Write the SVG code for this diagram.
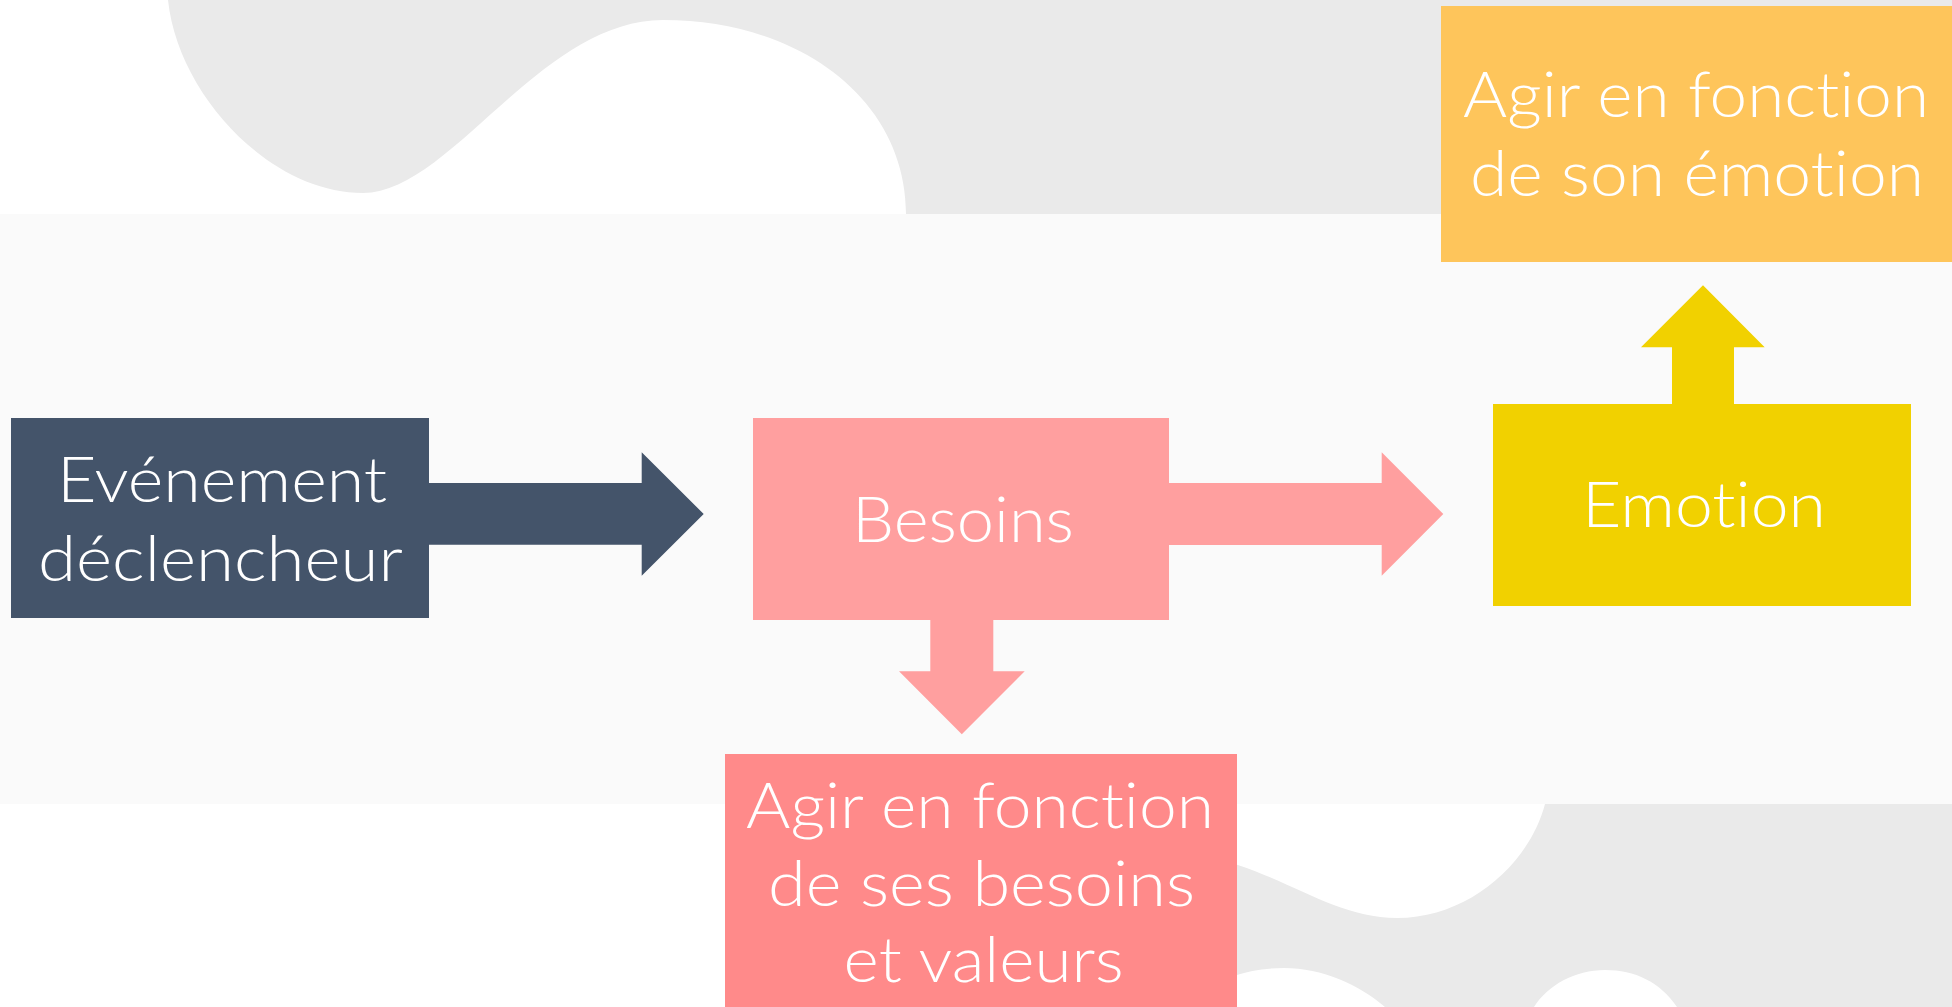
<svg xmlns="http://www.w3.org/2000/svg" width="1952" height="1007" viewBox="0 0 1952 1007">
<style>
.lbl{font-family:"Lato","Noto Sans","Liberation Sans",sans-serif;font-weight:300;font-size:64px;fill:#FFFFFF;text-anchor:middle;font-variant-ligatures:none;font-feature-settings:"liga" 0,"clig" 0,"dlig" 0}
.dark{fill:#44546A}
.pink{fill:#FF9F9F}
.yel{fill:#F1D100}
.org{fill:#FEC55B}
.red{fill:#FF8A8A}
.bg{fill:#EAEAEA}
</style>
<g id="background">
<rect x="0" y="0" width="1952" height="1007" fill="#FFFFFF"/>
<path class="bg" d="M168,0 L1952,0 L1952,214 L906,214 C906,100 800,20 663,20 C540,20 450,193 363,193 C270,193 178,95 168,0 Z"/>
<path class="bg" d="M1200,855 C1280,870 1330,918 1397,918 C1470,918 1530,862 1545,804 L1952,804 L1952,1007 L1677,1007 C1660,982 1635,970 1605,970 C1575,970 1548,985 1534,1007 L1385,1007 C1360,985 1322,968 1284,968 C1265,968 1248,971 1237,975 L1200,985 Z"/>
<rect x="0" y="214" width="1952" height="590" fill="#FAFAFA"/>
</g>
<g id="connectors">
<polygon class="dark" points="420,483 641.7,483 641.7,452.3 703.7,514 641.7,575.7 641.7,544.7 420,544.7"/>
<polygon class="pink" points="1160,483 1381.7,483 1381.7,452.3 1443.3,514 1381.7,575.7 1381.7,545 1160,545"/>
<polygon class="pink" points="930.3,610 993.3,610 993.3,671.3 1024.7,671.3 961.8,734.3 899,671.3 930.3,671.3"/>
<polygon class="yel" points="1672,412 1672,347.3 1641,347.3 1703,285.3 1764.7,347.3 1734,347.3 1734,412"/>
</g>
<g id="node-evenement">
<rect class="dark" x="11" y="418" width="418" height="200"/>
<text class="lbl" x="222" y="502" textLength="330" lengthAdjust="spacingAndGlyphs">Evénement</text>
<text class="lbl" x="220.5" y="580.7" textLength="365" lengthAdjust="spacingAndGlyphs">déclencheur</text>
</g>
<g id="node-besoins">
<rect class="pink" x="753" y="418" width="416" height="202"/>
<text class="lbl" x="963" y="541.7" textLength="222" lengthAdjust="spacingAndGlyphs">Besoins</text>
</g>
<g id="node-emotion">
<rect class="yel" x="1493" y="404" width="418" height="202"/>
<text class="lbl" x="1704" y="527.3" textLength="244" lengthAdjust="spacingAndGlyphs">Emotion</text>
</g>
<g id="node-agir-emotion">
<rect class="org" x="1441" y="6" width="511" height="256"/>
<text class="lbl" x="1696" y="117.3" textLength="466" lengthAdjust="spacingAndGlyphs">Agir en fonction</text>
<text class="lbl" x="1697" y="196" textLength="454" lengthAdjust="spacingAndGlyphs">de son émotion</text>
</g>
<g id="node-agir-besoins">
<rect class="red" x="725" y="754" width="512" height="253"/>
<text class="lbl" x="980" y="827.7" textLength="468" lengthAdjust="spacingAndGlyphs">Agir en fonction</text>
<text class="lbl" x="981.5" y="905.7" textLength="427" lengthAdjust="spacingAndGlyphs">de ses besoins</text>
<text class="lbl" x="983.6" y="982.3" textLength="280" lengthAdjust="spacingAndGlyphs">et valeurs</text>
</g>
</svg>
